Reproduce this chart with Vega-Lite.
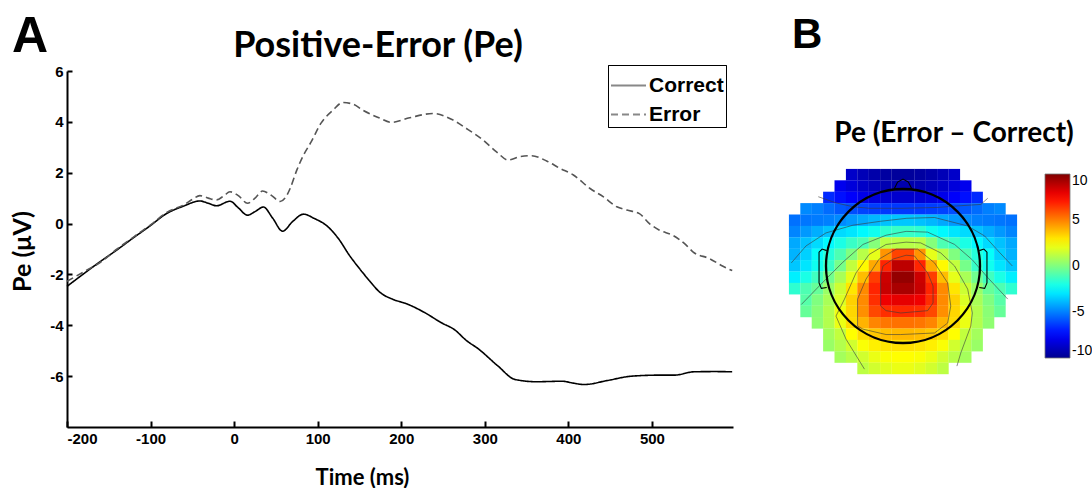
{
  "$schema": "https://vega.github.io/schema/vega-lite/v6.json",
  "background": "white",
  "padding": {"left": 10, "top": 12, "right": 0, "bottom": 0},
  "spacing": 52,
  "datasets": {
    "erp": [
      {"s":"Correct","t":-200,"v":-2.47},{"s":"Correct","t":-160,"v":-1.49},{"s":"Correct","t":-140,"v":-1.03},{"s":"Correct","t":-121,"v":-0.57},{"s":"Correct","t":-101,"v":-0.1},{"s":"Correct","t":-81,"v":0.39},{"s":"Correct","t":-61,"v":0.68},{"s":"Correct","t":-41,"v":0.89},{"s":"Correct","t":-31,"v":0.8},{"s":"Correct","t":-21,"v":0.7},{"s":"Correct","t":-5,"v":0.88},{"s":"Correct","t":5,"v":0.62},{"s":"Correct","t":16,"v":0.33},{"s":"Correct","t":25,"v":0.47},{"s":"Correct","t":35,"v":0.65},{"s":"Correct","t":46,"v":0.22},{"s":"Correct","t":58,"v":-0.3},{"s":"Correct","t":70,"v":0.08},{"s":"Correct","t":83,"v":0.37},{"s":"Correct","t":96,"v":0.2},{"s":"Correct","t":111,"v":-0.09},{"s":"Correct","t":125,"v":-0.6},{"s":"Correct","t":138,"v":-1.25},{"s":"Correct","t":150,"v":-1.77},{"s":"Correct","t":162,"v":-2.25},{"s":"Correct","t":174,"v":-2.69},{"s":"Correct","t":190,"v":-2.98},{"s":"Correct","t":206,"v":-3.15},{"s":"Correct","t":228,"v":-3.5},{"s":"Correct","t":248,"v":-3.9},{"s":"Correct","t":264,"v":-4.18},{"s":"Correct","t":278,"v":-4.6},{"s":"Correct","t":292,"v":-4.92},{"s":"Correct","t":316,"v":-5.61},{"s":"Correct","t":336,"v":-6.13},{"s":"Correct","t":362,"v":-6.22},{"s":"Correct","t":393,"v":-6.2},{"s":"Correct","t":405,"v":-6.27},{"s":"Correct","t":419,"v":-6.33},{"s":"Correct","t":447,"v":-6.17},{"s":"Correct","t":476,"v":-6.0},{"s":"Correct","t":510,"v":-5.96},{"s":"Correct","t":527,"v":-5.96},{"s":"Correct","t":550,"v":-5.83},{"s":"Correct","t":575,"v":-5.82},{"s":"Correct","t":596,"v":-5.83},
      {"s":"Error","t":-200,"v":-2.27},{"s":"Error","t":-180,"v":-1.9},{"s":"Error","t":-160,"v":-1.52},{"s":"Error","t":-140,"v":-1.0},{"s":"Error","t":-120,"v":-0.52},{"s":"Error","t":-100,"v":-0.05},{"s":"Error","t":-80,"v":0.45},{"s":"Error","t":-60,"v":0.74},{"s":"Error","t":-50,"v":0.95},{"s":"Error","t":-41,"v":1.1},{"s":"Error","t":-31,"v":1.0},{"s":"Error","t":-21,"v":0.93},{"s":"Error","t":-12,"v":1.1},{"s":"Error","t":-5,"v":1.25},{"s":"Error","t":5,"v":1.1},{"s":"Error","t":16,"v":0.8},{"s":"Error","t":25,"v":1.0},{"s":"Error","t":34,"v":1.28},{"s":"Error","t":45,"v":1.1},{"s":"Error","t":55,"v":0.87},{"s":"Error","t":62,"v":1.05},{"s":"Error","t":67,"v":1.38},{"s":"Error","t":75,"v":2.1},{"s":"Error","t":83,"v":2.69},{"s":"Error","t":92,"v":3.2},{"s":"Error","t":104,"v":3.95},{"s":"Error","t":118,"v":4.45},{"s":"Error","t":130,"v":4.76},{"s":"Error","t":142,"v":4.7},{"s":"Error","t":154,"v":4.46},{"s":"Error","t":174,"v":4.15},{"s":"Error","t":188,"v":3.98},{"s":"Error","t":210,"v":4.16},{"s":"Error","t":238,"v":4.33},{"s":"Error","t":262,"v":4.07},{"s":"Error","t":278,"v":3.74},{"s":"Error","t":298,"v":3.28},{"s":"Error","t":314,"v":2.82},{"s":"Error","t":328,"v":2.5},{"s":"Error","t":342,"v":2.63},{"s":"Error","t":356,"v":2.67},{"s":"Error","t":374,"v":2.46},{"s":"Error","t":390,"v":2.17},{"s":"Error","t":406,"v":1.91},{"s":"Error","t":426,"v":1.38},{"s":"Error","t":442,"v":1.05},{"s":"Error","t":458,"v":0.66},{"s":"Error","t":470,"v":0.53},{"s":"Error","t":485,"v":0.39},{"s":"Error","t":497,"v":0.0},{"s":"Error","t":509,"v":-0.26},{"s":"Error","t":525,"v":-0.46},{"s":"Error","t":541,"v":-0.85},{"s":"Error","t":549,"v":-1.11},{"s":"Error","t":569,"v":-1.38},{"s":"Error","t":585,"v":-1.68},{"s":"Error","t":596,"v":-1.85}
    ],
    "topo": [
      {"x":-0.666,"y":1.186,"v":-8.7},{"x":-0.518,"y":1.186,"v":-9.1},{"x":-0.37,"y":1.186,"v":-9.4},{"x":-0.222,"y":1.186,"v":-9.6},{"x":-0.074,"y":1.186,"v":-9.7},{"x":0.074,"y":1.186,"v":-9.7},{"x":0.222,"y":1.186,"v":-9.6},{"x":0.37,"y":1.186,"v":-9.4},{"x":0.518,"y":1.186,"v":-9.1},{"x":0.666,"y":1.186,"v":-8.7},
      {"x":-0.814,"y":1.038,"v":-7.9},{"x":-0.666,"y":1.038,"v":-8.3},{"x":-0.518,"y":1.038,"v":-8.7},{"x":-0.37,"y":1.038,"v":-9.0},{"x":-0.222,"y":1.038,"v":-9.2},{"x":-0.074,"y":1.038,"v":-9.3},{"x":0.074,"y":1.038,"v":-9.3},{"x":0.222,"y":1.038,"v":-9.2},{"x":0.37,"y":1.038,"v":-9.0},{"x":0.518,"y":1.038,"v":-8.7},{"x":0.666,"y":1.038,"v":-8.3},{"x":0.814,"y":1.038,"v":-7.9},
      {"x":-0.962,"y":0.89,"v":-6.7},{"x":-0.814,"y":0.89,"v":-7.2},{"x":-0.666,"y":0.89,"v":-7.6},{"x":-0.518,"y":0.89,"v":-8.0},{"x":-0.37,"y":0.89,"v":-8.3},{"x":-0.222,"y":0.89,"v":-8.5},{"x":-0.074,"y":0.89,"v":-8.6},{"x":0.074,"y":0.89,"v":-8.6},{"x":0.222,"y":0.89,"v":-8.5},{"x":0.37,"y":0.89,"v":-8.3},{"x":0.518,"y":0.89,"v":-8.0},{"x":0.666,"y":0.89,"v":-7.6},{"x":0.814,"y":0.89,"v":-7.2},{"x":0.962,"y":0.89,"v":-6.7},
      {"x":-1.258,"y":0.742,"v":-4.8},{"x":-1.11,"y":0.742,"v":-5.0},{"x":-0.962,"y":0.742,"v":-5.4},{"x":-0.814,"y":0.742,"v":-5.8},{"x":-0.666,"y":0.742,"v":-6.0},{"x":-0.518,"y":0.742,"v":-6.2},{"x":-0.37,"y":0.742,"v":-6.3},{"x":-0.222,"y":0.742,"v":-6.4},{"x":-0.074,"y":0.742,"v":-6.4},{"x":0.074,"y":0.742,"v":-6.4},{"x":0.222,"y":0.742,"v":-6.4},{"x":0.37,"y":0.742,"v":-6.3},{"x":0.518,"y":0.742,"v":-6.2},{"x":0.666,"y":0.742,"v":-6.0},{"x":0.814,"y":0.742,"v":-5.8},{"x":0.962,"y":0.742,"v":-5.4},{"x":1.11,"y":0.742,"v":-5.0},{"x":1.258,"y":0.742,"v":-4.8},
      {"x":-1.406,"y":0.594,"v":-5.3},{"x":-1.258,"y":0.594,"v":-5.2},{"x":-1.11,"y":0.594,"v":-5.1},{"x":-0.962,"y":0.594,"v":-5.0},{"x":-0.814,"y":0.594,"v":-4.8},{"x":-0.666,"y":0.594,"v":-4.5},{"x":-0.518,"y":0.594,"v":-4.2},{"x":-0.37,"y":0.594,"v":-3.9},{"x":-0.222,"y":0.594,"v":-3.7},{"x":-0.074,"y":0.594,"v":-3.6},{"x":0.074,"y":0.594,"v":-3.6},{"x":0.222,"y":0.594,"v":-3.7},{"x":0.37,"y":0.594,"v":-3.9},{"x":0.518,"y":0.594,"v":-4.2},{"x":0.666,"y":0.594,"v":-4.5},{"x":0.814,"y":0.594,"v":-4.8},{"x":0.962,"y":0.594,"v":-5.0},{"x":1.11,"y":0.594,"v":-5.1},{"x":1.258,"y":0.594,"v":-5.2},{"x":1.406,"y":0.594,"v":-5.3},
      {"x":-1.406,"y":0.446,"v":-4.9},{"x":-1.258,"y":0.446,"v":-4.5},{"x":-1.11,"y":0.446,"v":-4.1},{"x":-0.962,"y":0.446,"v":-3.7},{"x":-0.814,"y":0.446,"v":-3.2},{"x":-0.666,"y":0.446,"v":-3.0},{"x":-0.518,"y":0.446,"v":-2.6},{"x":-0.37,"y":0.446,"v":-2.2},{"x":-0.222,"y":0.446,"v":-1.6},{"x":-0.074,"y":0.446,"v":-1.4},{"x":0.074,"y":0.446,"v":-1.4},{"x":0.222,"y":0.446,"v":-1.6},{"x":0.37,"y":0.446,"v":-2.2},{"x":0.518,"y":0.446,"v":-2.6},{"x":0.666,"y":0.446,"v":-3.0},{"x":0.814,"y":0.446,"v":-3.2},{"x":0.962,"y":0.446,"v":-3.7},{"x":1.11,"y":0.446,"v":-4.1},{"x":1.258,"y":0.446,"v":-4.5},{"x":1.406,"y":0.446,"v":-4.9},
      {"x":-1.406,"y":0.298,"v":-4.2},{"x":-1.258,"y":0.298,"v":-3.7},{"x":-1.11,"y":0.298,"v":-3.2},{"x":-0.962,"y":0.298,"v":-2.6},{"x":-0.814,"y":0.298,"v":-2.0},{"x":-0.666,"y":0.298,"v":-1.4},{"x":-0.518,"y":0.298,"v":-1.0},{"x":-0.37,"y":0.298,"v":0.1},{"x":-0.222,"y":0.298,"v":1.1},{"x":-0.074,"y":0.298,"v":1.1},{"x":0.074,"y":0.298,"v":1.1},{"x":0.222,"y":0.298,"v":1.1},{"x":0.37,"y":0.298,"v":0.1},{"x":0.518,"y":0.298,"v":-1.0},{"x":0.666,"y":0.298,"v":-1.4},{"x":0.814,"y":0.298,"v":-2.0},{"x":0.962,"y":0.298,"v":-2.6},{"x":1.11,"y":0.298,"v":-3.2},{"x":1.258,"y":0.298,"v":-3.7},{"x":1.406,"y":0.298,"v":-4.2},
      {"x":-1.406,"y":0.15,"v":-4.0},{"x":-1.258,"y":0.15,"v":-3.4},{"x":-1.11,"y":0.15,"v":-2.4},{"x":-0.962,"y":0.15,"v":-1.8},{"x":-0.814,"y":0.15,"v":-1.0},{"x":-0.666,"y":0.15,"v":0.0},{"x":-0.518,"y":0.15,"v":1.1},{"x":-0.37,"y":0.15,"v":2.0},{"x":-0.222,"y":0.15,"v":4.6},{"x":-0.074,"y":0.15,"v":6.2},{"x":0.074,"y":0.15,"v":6.2},{"x":0.222,"y":0.15,"v":4.6},{"x":0.37,"y":0.15,"v":2.0},{"x":0.518,"y":0.15,"v":1.1},{"x":0.666,"y":0.15,"v":0.0},{"x":0.814,"y":0.15,"v":-1.0},{"x":0.962,"y":0.15,"v":-1.8},{"x":1.11,"y":0.15,"v":-2.4},{"x":1.258,"y":0.15,"v":-3.4},{"x":1.406,"y":0.15,"v":-4.0},
      {"x":-1.406,"y":0.002,"v":-3.6},{"x":-1.258,"y":0.002,"v":-3.0},{"x":-1.11,"y":0.002,"v":-2.2},{"x":-0.962,"y":0.002,"v":-1.4},{"x":-0.814,"y":0.002,"v":-0.2},{"x":-0.666,"y":0.002,"v":1.3},{"x":-0.518,"y":0.002,"v":2.6},{"x":-0.37,"y":0.002,"v":4.2},{"x":-0.222,"y":0.002,"v":6.8},{"x":-0.074,"y":0.002,"v":8.8},{"x":0.074,"y":0.002,"v":8.8},{"x":0.222,"y":0.002,"v":6.8},{"x":0.37,"y":0.002,"v":4.2},{"x":0.518,"y":0.002,"v":2.6},{"x":0.666,"y":0.002,"v":1.3},{"x":0.814,"y":0.002,"v":-0.2},{"x":0.962,"y":0.002,"v":-1.4},{"x":1.11,"y":0.002,"v":-2.2},{"x":1.258,"y":0.002,"v":-3.0},{"x":1.406,"y":0.002,"v":-3.6},
      {"x":-1.406,"y":-0.146,"v":-2.8},{"x":-1.258,"y":-0.146,"v":-2.0},{"x":-1.11,"y":-0.146,"v":-1.25},{"x":-0.962,"y":-0.146,"v":-0.3},{"x":-0.814,"y":-0.146,"v":0.8},{"x":-0.666,"y":-0.146,"v":2.0},{"x":-0.518,"y":-0.146,"v":3.8},{"x":-0.37,"y":-0.146,"v":6.3},{"x":-0.222,"y":-0.146,"v":8.5},{"x":-0.074,"y":-0.146,"v":9.6},{"x":0.074,"y":-0.146,"v":9.6},{"x":0.222,"y":-0.146,"v":8.5},{"x":0.37,"y":-0.146,"v":6.3},{"x":0.518,"y":-0.146,"v":3.8},{"x":0.666,"y":-0.146,"v":2.0},{"x":0.814,"y":-0.146,"v":0.8},{"x":0.962,"y":-0.146,"v":-0.3},{"x":1.11,"y":-0.146,"v":-1.25},{"x":1.258,"y":-0.146,"v":-2.0},{"x":1.406,"y":-0.146,"v":-2.8},
      {"x":-1.406,"y":-0.294,"v":-1.6},{"x":-1.258,"y":-0.294,"v":-1.0},{"x":-1.11,"y":-0.294,"v":-0.5},{"x":-0.962,"y":-0.294,"v":0.5},{"x":-0.814,"y":-0.294,"v":1.5},{"x":-0.666,"y":-0.294,"v":3.0},{"x":-0.518,"y":-0.294,"v":4.8},{"x":-0.37,"y":-0.294,"v":6.8},{"x":-0.222,"y":-0.294,"v":8.6},{"x":-0.074,"y":-0.294,"v":9.2},{"x":0.074,"y":-0.294,"v":9.2},{"x":0.222,"y":-0.294,"v":8.6},{"x":0.37,"y":-0.294,"v":6.8},{"x":0.518,"y":-0.294,"v":4.8},{"x":0.666,"y":-0.294,"v":3.0},{"x":0.814,"y":-0.294,"v":1.5},{"x":0.962,"y":-0.294,"v":0.5},{"x":1.11,"y":-0.294,"v":-0.5},{"x":1.258,"y":-0.294,"v":-1.0},{"x":1.406,"y":-0.294,"v":-1.6},
      {"x":-1.258,"y":-0.442,"v":-0.8},{"x":-1.11,"y":-0.442,"v":0.0},{"x":-0.962,"y":-0.442,"v":0.8},{"x":-0.814,"y":-0.442,"v":1.8},{"x":-0.666,"y":-0.442,"v":3.4},{"x":-0.518,"y":-0.442,"v":4.8},{"x":-0.37,"y":-0.442,"v":6.6},{"x":-0.222,"y":-0.442,"v":7.8},{"x":-0.074,"y":-0.442,"v":8.0},{"x":0.074,"y":-0.442,"v":8.0},{"x":0.222,"y":-0.442,"v":7.8},{"x":0.37,"y":-0.442,"v":6.6},{"x":0.518,"y":-0.442,"v":4.8},{"x":0.666,"y":-0.442,"v":3.4},{"x":0.814,"y":-0.442,"v":1.8},{"x":0.962,"y":-0.442,"v":0.8},{"x":1.11,"y":-0.442,"v":0.0},{"x":1.258,"y":-0.442,"v":-0.8},
      {"x":-1.258,"y":-0.59,"v":-0.5},{"x":-1.11,"y":-0.59,"v":0.2},{"x":-0.962,"y":-0.59,"v":1.0},{"x":-0.814,"y":-0.59,"v":2.2},{"x":-0.666,"y":-0.59,"v":3.3},{"x":-0.518,"y":-0.59,"v":4.7},{"x":-0.37,"y":-0.59,"v":6.1},{"x":-0.222,"y":-0.59,"v":6.6},{"x":-0.074,"y":-0.59,"v":6.7},{"x":0.074,"y":-0.59,"v":6.7},{"x":0.222,"y":-0.59,"v":6.6},{"x":0.37,"y":-0.59,"v":6.1},{"x":0.518,"y":-0.59,"v":4.7},{"x":0.666,"y":-0.59,"v":3.3},{"x":0.814,"y":-0.59,"v":2.2},{"x":0.962,"y":-0.59,"v":1.0},{"x":1.11,"y":-0.59,"v":0.2},{"x":1.258,"y":-0.59,"v":-0.5},
      {"x":-1.11,"y":-0.738,"v":0.3},{"x":-0.962,"y":-0.738,"v":1.0},{"x":-0.814,"y":-0.738,"v":2.1},{"x":-0.666,"y":-0.738,"v":3.2},{"x":-0.518,"y":-0.738,"v":4.0},{"x":-0.37,"y":-0.738,"v":4.9},{"x":-0.222,"y":-0.738,"v":5.2},{"x":-0.074,"y":-0.738,"v":5.3},{"x":0.074,"y":-0.738,"v":5.3},{"x":0.222,"y":-0.738,"v":5.2},{"x":0.37,"y":-0.738,"v":4.9},{"x":0.518,"y":-0.738,"v":4.0},{"x":0.666,"y":-0.738,"v":3.2},{"x":0.814,"y":-0.738,"v":2.1},{"x":0.962,"y":-0.738,"v":1.0},{"x":1.11,"y":-0.738,"v":0.3},
      {"x":-0.962,"y":-0.886,"v":0.7},{"x":-0.814,"y":-0.886,"v":1.3},{"x":-0.666,"y":-0.886,"v":2.5},{"x":-0.518,"y":-0.886,"v":3.2},{"x":-0.37,"y":-0.886,"v":3.6},{"x":-0.222,"y":-0.886,"v":3.8},{"x":-0.074,"y":-0.886,"v":3.9},{"x":0.074,"y":-0.886,"v":3.9},{"x":0.222,"y":-0.886,"v":3.8},{"x":0.37,"y":-0.886,"v":3.6},{"x":0.518,"y":-0.886,"v":3.2},{"x":0.666,"y":-0.886,"v":2.5},{"x":0.814,"y":-0.886,"v":1.3},{"x":0.962,"y":-0.886,"v":0.7},
      {"x":-0.962,"y":-1.034,"v":0.5},{"x":-0.814,"y":-1.034,"v":1.0},{"x":-0.666,"y":-1.034,"v":1.6},{"x":-0.518,"y":-1.034,"v":2.4},{"x":-0.37,"y":-1.034,"v":2.8},{"x":-0.222,"y":-1.034,"v":3.0},{"x":-0.074,"y":-1.034,"v":3.1},{"x":0.074,"y":-1.034,"v":3.1},{"x":0.222,"y":-1.034,"v":3.0},{"x":0.37,"y":-1.034,"v":2.8},{"x":0.518,"y":-1.034,"v":2.4},{"x":0.666,"y":-1.034,"v":1.6},{"x":0.814,"y":-1.034,"v":1.0},{"x":0.962,"y":-1.034,"v":0.5},
      {"x":-0.814,"y":-1.182,"v":0.7},{"x":-0.666,"y":-1.182,"v":1.1},{"x":-0.518,"y":-1.182,"v":1.6},{"x":-0.37,"y":-1.182,"v":2.1},{"x":-0.222,"y":-1.182,"v":2.4},{"x":-0.074,"y":-1.182,"v":2.5},{"x":0.074,"y":-1.182,"v":2.5},{"x":0.222,"y":-1.182,"v":2.4},{"x":0.37,"y":-1.182,"v":2.1},{"x":0.518,"y":-1.182,"v":1.6},{"x":0.666,"y":-1.182,"v":1.1},{"x":0.814,"y":-1.182,"v":0.7},
      {"x":-0.518,"y":-1.33,"v":1.2},{"x":-0.37,"y":-1.33,"v":1.6},{"x":-0.222,"y":-1.33,"v":1.9},{"x":-0.074,"y":-1.33,"v":2.1},{"x":0.074,"y":-1.33,"v":2.1},{"x":0.222,"y":-1.33,"v":1.9},{"x":0.37,"y":-1.33,"v":1.6},{"x":0.518,"y":-1.33,"v":1.2}
    ],
    "contours": [
      {"k":"c1","i":0,"x":-1.1,"y":0.9},{"k":"c1","i":1,"x":-0.87,"y":0.82},{"k":"c1","i":2,"x":-0.65,"y":0.77},{"k":"c1","i":3,"x":-0.44,"y":0.75},{"k":"c1","i":4,"x":0,"y":0.75},{"k":"c1","i":5,"x":0.44,"y":0.76},{"k":"c1","i":6,"x":0.7,"y":0.78},{"k":"c1","i":7,"x":1.01,"y":0.8},{"k":"c1","i":8,"x":1.1,"y":0.88},
      {"k":"c2","i":0,"x":-1.45,"y":0.04},{"k":"c2","i":1,"x":-1.26,"y":0.26},{"k":"c2","i":2,"x":-1.0,"y":0.43},{"k":"c2","i":3,"x":-0.65,"y":0.53},{"k":"c2","i":4,"x":-0.3,"y":0.58},{"k":"c2","i":5,"x":0.05,"y":0.62},{"k":"c2","i":6,"x":0.41,"y":0.63},{"k":"c2","i":7,"x":0.84,"y":0.52},{"k":"c2","i":8,"x":1.06,"y":0.39},{"k":"c2","i":9,"x":1.25,"y":0.18},{"k":"c2","i":10,"x":1.42,"y":0.0},
      {"k":"c3","i":0,"x":-1.32,"y":-0.5},{"k":"c3","i":1,"x":-1.0,"y":-0.17},{"k":"c3","i":2,"x":-0.78,"y":0.05},{"k":"c3","i":3,"x":-0.52,"y":0.28},{"k":"c3","i":4,"x":-0.22,"y":0.4},{"k":"c3","i":5,"x":0.04,"y":0.45},{"k":"c3","i":6,"x":0.32,"y":0.44},{"k":"c3","i":7,"x":0.67,"y":0.28},{"k":"c3","i":8,"x":0.9,"y":0.08},{"k":"c3","i":9,"x":1.1,"y":-0.15},{"k":"c3","i":10,"x":1.36,"y":-0.43},
      {"k":"c4","i":0,"x":-0.5,"y":-1.34},{"k":"c4","i":1,"x":-0.74,"y":-0.95},{"k":"c4","i":2,"x":-0.87,"y":-0.65},{"k":"c4","i":3,"x":-0.76,"y":-0.43},{"k":"c4","i":4,"x":-0.61,"y":-0.09},{"k":"c4","i":5,"x":-0.44,"y":0.15},{"k":"c4","i":6,"x":-0.22,"y":0.28},{"k":"c4","i":7,"x":0.04,"y":0.31},{"k":"c4","i":8,"x":0.23,"y":0.3},{"k":"c4","i":9,"x":0.49,"y":0.17},{"k":"c4","i":10,"x":0.67,"y":0.0},{"k":"c4","i":11,"x":0.84,"y":-0.3},{"k":"c4","i":12,"x":0.9,"y":-0.61},{"k":"c4","i":13,"x":0.88,"y":-0.78},{"k":"c4","i":14,"x":0.75,"y":-1.13},{"k":"c4","i":15,"x":0.7,"y":-1.3},
      {"k":"c5","i":0,"x":-0.59,"y":-0.78},{"k":"c5","i":1,"x":-0.59,"y":-0.43},{"k":"c5","i":2,"x":-0.48,"y":-0.17},{"k":"c5","i":3,"x":-0.31,"y":0.09},{"k":"c5","i":4,"x":-0.09,"y":0.22},{"k":"c5","i":5,"x":0.19,"y":0.22},{"k":"c5","i":6,"x":0.41,"y":0.04},{"k":"c5","i":7,"x":0.58,"y":-0.22},{"k":"c5","i":8,"x":0.62,"y":-0.52},{"k":"c5","i":9,"x":0.58,"y":-0.74},{"k":"c5","i":10,"x":0.41,"y":-0.87},{"k":"c5","i":11,"x":-0.03,"y":-0.89},{"k":"c5","i":12,"x":-0.22,"y":-0.89},{"k":"c5","i":13,"x":-0.52,"y":-0.82},{"k":"c5","i":14,"x":-0.59,"y":-0.78},
      {"k":"c6","i":0,"x":-0.29,"y":-0.13},{"k":"c6","i":1,"x":-0.26,"y":0.0},{"k":"c6","i":2,"x":-0.13,"y":0.09},{"k":"c6","i":3,"x":0.04,"y":0.14},{"k":"c6","i":4,"x":0.15,"y":0.13},{"k":"c6","i":5,"x":0.32,"y":-0.09},{"k":"c6","i":6,"x":0.39,"y":-0.26},{"k":"c6","i":7,"x":0.39,"y":-0.48},{"k":"c6","i":8,"x":0.32,"y":-0.58},{"k":"c6","i":9,"x":-0.03,"y":-0.61},{"k":"c6","i":10,"x":-0.22,"y":-0.58},{"k":"c6","i":11,"x":-0.29,"y":-0.52},{"k":"c6","i":12,"x":-0.29,"y":-0.13}
    ],
    "headparts": [
      {"k":"nose","i":0,"x":-0.12,"y":0.99},{"k":"nose","i":1,"x":-0.07,"y":1.09},{"k":"nose","i":2,"x":0,"y":1.13},{"k":"nose","i":3,"x":0.07,"y":1.09},{"k":"nose","i":4,"x":0.12,"y":0.99},
      {"k":"earL","i":0,"x":-0.99,"y":0.2},{"k":"earL","i":1,"x":-1.05,"y":0.22},{"k":"earL","i":2,"x":-1.09,"y":0.18},{"k":"earL","i":3,"x":-1.09,"y":-0.22},{"k":"earL","i":4,"x":-1.06,"y":-0.29},{"k":"earL","i":5,"x":-0.99,"y":-0.28},
      {"k":"earR","i":0,"x":0.99,"y":0.2},{"k":"earR","i":1,"x":1.05,"y":0.22},{"k":"earR","i":2,"x":1.09,"y":0.18},{"k":"earR","i":3,"x":1.09,"y":-0.22},{"k":"earR","i":4,"x":1.06,"y":-0.29},{"k":"earR","i":5,"x":0.99,"y":-0.28}
    ],
    "headcenter": [{"x":0,"y":0}]
  },
  "hconcat": [
    {
      "title": {"text": "A", "anchor": "start", "font": "Liberation Sans", "fontSize": 50, "fontWeight": "bold", "color": "black", "offset": -34, "dx": 2},
      "vconcat": [
        {
          "width": 666,
          "height": 356,
          "title": {"text": "Positive-Error (Pe)", "font": "Lato", "fontSize": 36, "fontWeight": "bold", "color": "black", "anchor": "middle", "frame": "group", "dx": -22, "offset": -1},
          "data": {"name": "erp"},
          "mark": {"type": "line", "interpolate": "monotone", "strokeWidth": 1.6},
          "encoding": {
            "x": {"field": "t", "type": "quantitative",
              "scale": {"domain": [-200, 597], "nice": false, "zero": false},
              "axis": {"title": "Time (ms)", "values": [-200,-100,0,100,200,300,400,500], "labelExpr": "'' + datum.value", "grid": false,
                "tickSize": -6, "tickWidth": 2, "tickColor": "black", "domainWidth": 2, "domainColor": "black",
                "labelFont": "Liberation Sans", "labelFontWeight": "bold", "labelFontSize": 15, "labelColor": "black", "labelPadding": 10,
                "titleFont": "Lato", "titleFontSize": 22, "titleFontWeight": "bold", "titleColor": "black",
                "titleX": 295, "titleY": 57, "titleAlign": "center", "titleBaseline": "alphabetic"}},
            "y": {"field": "v", "type": "quantitative",
              "scale": {"domain": [-8, 6], "nice": false, "zero": false},
              "axis": {"title": "Pe (μV)", "values": [-6,-4,-2,0,2,4,6], "labelExpr": "'' + datum.value", "grid": false,
                "tickSize": -5, "tickWidth": 2, "tickColor": "black", "domainWidth": 2, "domainColor": "black",
                "labelFont": "Liberation Sans", "labelFontWeight": "bold", "labelFontSize": 15, "labelColor": "black", "labelPadding": 9,
                "titleFont": "Lato", "titleFontSize": 25, "titleFontWeight": "bold", "titleColor": "black",
                "titleX": -45, "titleY": 180, "titleAngle": -90, "titleAlign": "center", "titleBaseline": "middle"}},
            "color": {"field": "s", "type": "nominal",
              "scale": {"domain": ["Correct", "Error"], "range": ["#000000", "#555555"]},
              "legend": {"title": null, "orient": "none", "legendX": 541, "legendY": -6, "direction": "vertical",
                "strokeColor": "black", "fillColor": "white", "padding": 2, "symbolType": "stroke", "symbolSize": 1225, "symbolStrokeWidth": 2, "symbolOpacity": 1,
                "labelFont": "Liberation Sans", "labelFontSize": 21, "labelFontWeight": "bold", "labelColor": "black", "labelOffset": 2, "rowPadding": -5}},
            "strokeDash": {"field": "s", "type": "nominal",
              "scale": {"domain": ["Correct", "Error"], "range": [[1, 0], [7, 4]]},
              "legend": {"title": null, "orient": "none", "legendX": 541, "legendY": -6, "direction": "vertical",
                "strokeColor": "black", "fillColor": "white", "padding": 2, "symbolType": "stroke", "symbolSize": 1225, "symbolStrokeWidth": 2, "symbolOpacity": 1,
                "labelFont": "Liberation Sans", "labelFontSize": 21, "labelFontWeight": "bold", "labelColor": "black", "labelOffset": 2, "rowPadding": -5}}
          }
        }
      ]
    },
    {
      "title": {"text": "B", "anchor": "start", "font": "Liberation Sans", "fontSize": 42, "fontWeight": "bold", "color": "black", "offset": 14, "dx": 3},
      "vconcat": [
        {
          "width": 228,
          "height": 356,
          "title": {"text": "Pe (Error – Correct)", "font": "Lato", "fontSize": 28, "fontWeight": "bold", "color": "black", "anchor": "middle", "frame": "group", "dx": 51, "offset": -77},
          "layer": [
            {
              "data": {"name": "topo"},
              "mark": {"type": "square", "size": 134, "opacity": 1, "strokeWidth": 0},
              "encoding": {
                "x": {"field": "x", "type": "quantitative", "scale": {"domain": [-1.48, 1.48], "nice": false, "zero": false}, "axis": null},
                "y": {"field": "y", "type": "quantitative", "scale": {"domain": [-2.091, 2.533], "nice": false, "zero": false}, "axis": null},
                "color": {"field": "v", "type": "quantitative",
                  "scale": {"type": "linear", "domain": [-10, -7.5, -5, -2.5, 0, 2.5, 5, 7.5, 10],
                    "range": ["#00008f", "#0000ff", "#0080ff", "#00ffff", "#80ff80", "#ffff00", "#ff8000", "#ff0000", "#800000"], "interpolate": "rgb"},
                  "legend": {"title": null, "orient": "none", "legendX": 256, "legendY": 103, "type": "gradient", "direction": "vertical",
                    "gradientLength": 184, "gradientThickness": 25, "values": [-10, -5, 0, 5, 10], "labelExpr": "'' + datum.value",
                    "labelFont": "Liberation Sans", "labelFontSize": 14, "labelColor": "black", "labelBaseline": "middle", "labelOffset": 2,
                    "labelOverlap": false, "gradientStrokeColor": "#777777", "gradientStrokeWidth": 0.8}}
              }
            },
            {
              "data": {"name": "contours"},
              "mark": {"type": "line", "color": "#3a3a3a", "strokeWidth": 0.8, "opacity": 0.75},
              "encoding": {
                "x": {"field": "x", "type": "quantitative"},
                "y": {"field": "y", "type": "quantitative"},
                "detail": {"field": "k"},
                "order": {"field": "i", "type": "quantitative"}
              }
            },
            {
              "data": {"name": "headparts"},
              "mark": {"type": "line", "color": "black", "strokeWidth": 1.1},
              "encoding": {
                "x": {"field": "x", "type": "quantitative"},
                "y": {"field": "y", "type": "quantitative"},
                "detail": {"field": "k"},
                "order": {"field": "i", "type": "quantitative"}
              }
            },
            {
              "data": {"name": "headcenter"},
              "mark": {"type": "point", "shape": "circle", "size": 23716, "filled": false, "stroke": "black", "strokeWidth": 2.3, "opacity": 1},
              "encoding": {
                "x": {"field": "x", "type": "quantitative"},
                "y": {"field": "y", "type": "quantitative"}
              }
            }
          ]
        }
      ]
    }
  ],
  "config": {"view": {"stroke": null}, "font": "Liberation Sans"}
}
